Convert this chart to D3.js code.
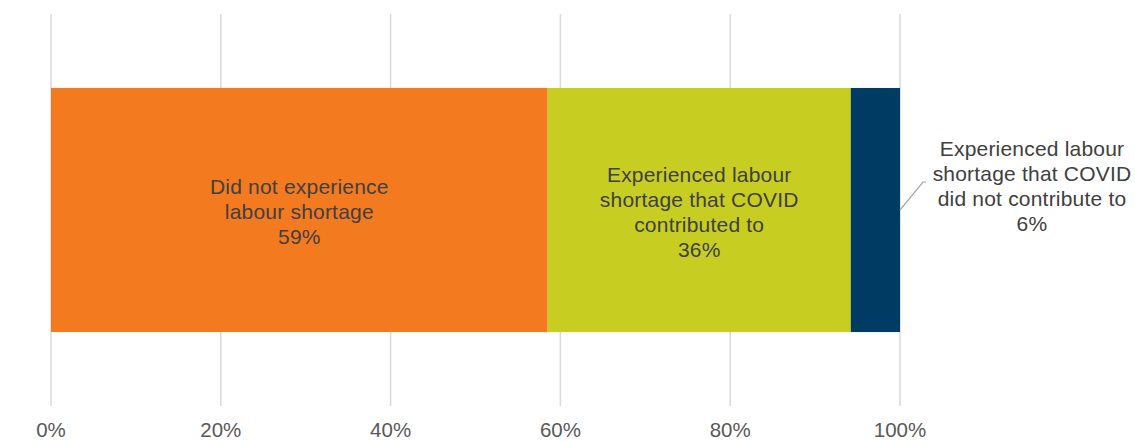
<!DOCTYPE html>
<html><head><meta charset="utf-8">
<script src="https://cdn.jsdelivr.net/npm/d3@7"></script>
<style>body{margin:0;background:#fff}svg{display:block}</style>
</head><body>
<svg id="chart" width="1135" height="441"></svg>
<script>
const categories = ["Did not experience labour shortage", "Experienced labour shortage that COVID contributed to", "Experienced labour shortage that COVID did not contribute to"];
const values = [58.5, 35.7, 5.8];
const valueLabels = ["59%", "36%", "6%"];
const labelLines = [
  ["Did not experience", "labour shortage"],
  ["Experienced labour", "shortage that COVID", "contributed to"],
  ["Experienced labour", "shortage that COVID", "did not contribute to"]
];
const colors = ["#F47A20", "#C8CD22", "#003B63"];
const ticks = [0, 20, 40, 60, 80, 100];

const svg = d3.select("#chart");
const x = d3.scaleLinear().domain([0, 100]).range([51, 900]);
const y = d3.scaleBand().domain(["all"]).range([14, 406]).paddingInner(0).paddingOuter(0.303);
const font = "'Liberation Sans', Arial, sans-serif";

// gridlines
svg.append("g").selectAll("line").data(ticks).join("line")
  .attr("x1", d => x(d)).attr("x2", d => x(d))
  .attr("y1", 14).attr("y2", 406)
  .attr("stroke", "#d9d9d9").attr("stroke-width", 1.5);

// tick labels
svg.append("g").selectAll("text").data(ticks).join("text")
  .attr("x", d => x(d)).attr("y", 437)
  .attr("text-anchor", "middle")
  .attr("font-family", font).attr("font-size", 20.5).attr("fill", "#595959")
  .text(d => d + "%");

// stacked bars
let cum = 0;
const segs = values.map((v, i) => { const s = {i, x0: cum, x1: cum + v}; cum += v; return s; });
const by = y("all"), bh = y.bandwidth();
svg.append("g").selectAll("rect").data(segs).join("rect")
  .attr("x", d => x(d.x0)).attr("width", d => x(d.x1) - x(d.x0))
  .attr("y", by).attr("height", bh)
  .attr("fill", d => colors[d.i]);

const lh = 25;
function label(cx, cy, lines) {
  const t = svg.append("text").attr("font-family", font).attr("font-size", 21)
    .attr("letter-spacing", 0.2)
    .attr("fill", "#404040").attr("text-anchor", "middle");
  const n = lines.length;
  lines.forEach((l, k) => {
    t.append("tspan").attr("x", cx).attr("y", cy + (k - (n - 1) / 2) * lh + 8).text(l);
  });
}
const cy = by + bh / 2;
segs.slice(0, 2).forEach(s => label((x(s.x0) + x(s.x1)) / 2, cy + 1, labelLines[s.i].concat([valueLabels[s.i]])));

// outside label for last segment with leader line
const last = segs[2];
const lx = 1032, ly = 185;
label(lx, ly, labelLines[2].concat([valueLabels[2]]));
svg.append("path")
  .attr("d", `M${x(last.x1)},${cy} L${x(last.x1) + 23},${ly - 3} L${x(last.x1) + 26},${ly - 3}`)
  .attr("fill", "none").attr("stroke", "#a6a6a6").attr("stroke-width", 1.2);
</script>
</body></html>
